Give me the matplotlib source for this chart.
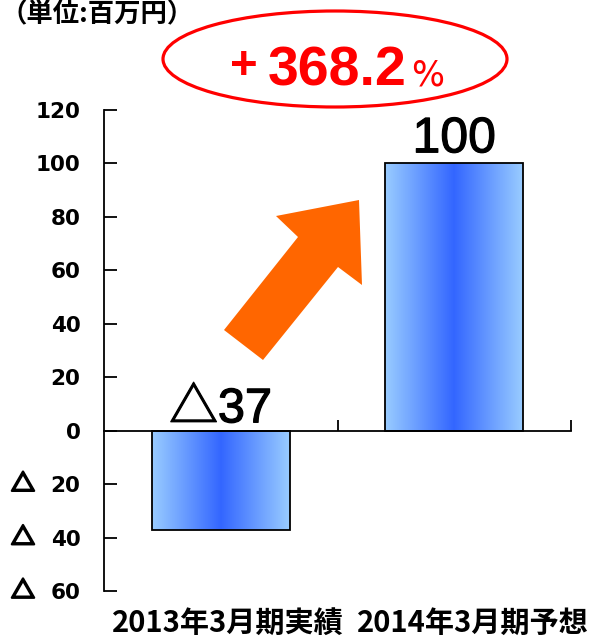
import numpy as np
import matplotlib.pyplot as plt
import matplotlib.transforms as mtransforms
import matplotlib.patheffects as pe
from matplotlib.colors import LinearSegmentedColormap
from matplotlib.patches import Ellipse, Polygon, Rectangle

categories = ['2013年3月期実績', '2014年3月期予想']
values = [-37, 100]
value_labels = ['△37', '100']
growth_label = '368.2'
yticks = [-60, -40, -20, 0, 20, 40, 60, 80, 100, 120]

W, H = 593, 640
fig = plt.figure(figsize=(W / 100, H / 100), dpi=100)
ax = fig.add_axes([104 / W, 1 - 591 / H, 467 / W, 481 / H])
ax.set_xlim(-0.5, 1.5)
ax.set_ylim(-60, 120)

# horizontal blue gradient for the bars
grad = LinearSegmentedColormap.from_list('barblue', ['#99ccff', '#3366ff', '#99ccff'])
g = np.linspace(0, 1, 256).reshape(1, -1)
bw = 0.59
for i, v in enumerate(values):
    x0, x1 = i - bw / 2, i + bw / 2
    y0, y1 = min(0, v), max(0, v)
    im = ax.imshow(g, cmap=grad, extent=[x0, x1, y0, y1], aspect='auto',
                   interpolation='bicubic', zorder=2)
    rect = Rectangle((x0, y0), bw, y1 - y0, facecolor='none',
                     edgecolor='black', linewidth=1.3, zorder=3)
    ax.add_patch(rect)
    im.set_clip_path(rect)

# value labels above the zero line / bar top
ax.annotate(value_labels[0], (0, 0), xytext=(0, 6), textcoords='offset points',
            ha='center', va='baseline', fontsize=35,
            family=['Liberation Sans', 'Noto Sans CJK JP'],
            path_effects=[pe.withStroke(linewidth=0.9, foreground='black')])
ax.annotate(value_labels[1], (1, values[1]), xytext=(0, 8), textcoords='offset points',
            ha='center', va='baseline', fontsize=36, family='Liberation Sans',
            path_effects=[pe.withStroke(linewidth=0.8, foreground='black')])

# axes: left spine plus zero line with inward ticks
for s in ['top', 'right']:
    ax.spines[s].set_visible(False)
ax.spines['bottom'].set_position(('data', 0))
ax.spines['left'].set_linewidth(1.3)
ax.spines['bottom'].set_linewidth(1.3)
ax.set_xticks([0.5, 1.5])
ax.set_xticklabels([])
ax.tick_params(axis='x', direction='in', length=8, width=1.3)
ax.set_yticks(yticks)
ax.set_yticklabels([str(abs(t)) for t in yticks],
                   fontsize=15.5, fontweight='bold', family='DejaVu Sans')
ax.tick_params(axis='y', direction='in', length=9, width=1.3, pad=17)

# negative ticks get a triangle in front of the number
tri_tr = mtransforms.blended_transform_factory(fig.transFigure, ax.transData)
for t in yticks:
    if t < 0:
        ax.text(23 / W, t, '△', transform=tri_tr, ha='center', va='center',
                fontsize=17, fontweight='bold', family='Noto Sans CJK JP',
                path_effects=[pe.withStroke(linewidth=1.7, foreground='black')])

for i, c in enumerate(categories):
    ax.text(i + 0.03 + 0.05 * i, -0.067, c, transform=ax.get_xaxis_transform(),
            ha='center', va='center', fontsize=21, fontweight='bold',
            family=['Noto Sans CJK JP', 'DejaVu Sans'])

fig.text(0, 1 - 1 / H, '（単位:百万円）', ha='left', va='top', fontsize=19,
         fontweight='bold', family=['Noto Sans CJK JP', 'DejaVu Sans'])

# red ellipse with growth rate
fig.patches.append(Ellipse((335 / W, 1 - 59 / H), 344 / W, 96 / H,
                           transform=fig.transFigure, fill=False,
                           edgecolor='#ff0000', linewidth=2.3))
fig.text(244 / W, 1 - 67 / H, '+', ha='center', va='center', fontsize=34,
         fontweight='bold', color='#ff0000', family='Liberation Sans')
fig.text(337 / W, 1 - 85 / H, growth_label, ha='center', va='baseline', fontsize=40,
         fontweight='bold', color='#ff0000', family='Liberation Sans')
fig.text(428 / W, 1 - 85 / H, '%', ha='center', va='baseline', fontsize=25,
         color='#ff0000', family='Liberation Sans Narrow')

# orange arrow
pts = [(224, 330), (263, 360), (338, 267), (362, 285), (359, 200), (276, 216), (298, 237)]
fig.patches.append(Polygon([(x / W, 1 - y / H) for x, y in pts], closed=True,
                           transform=fig.transFigure, facecolor='#ff6600',
                           edgecolor='none'))

fig.savefig('out.png', dpi=100)
